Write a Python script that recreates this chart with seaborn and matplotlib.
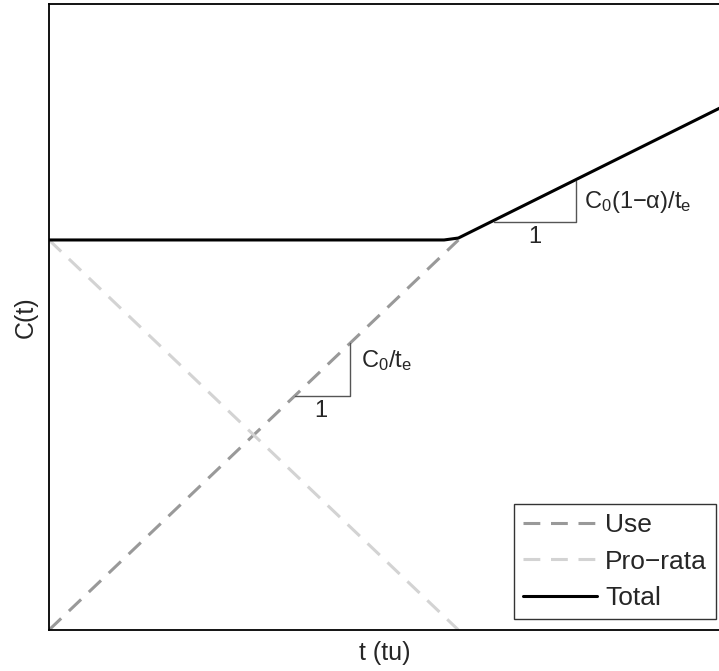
import numpy as np
import pandas as pd
import matplotlib
matplotlib.use("Agg")
import matplotlib.pyplot as plt
import seaborn as sns

# Data (C0 = 1, te = 1)
t_use = [0.0, 1.0]
c_use = [0.0, 1.0]
t_pro = [0.0, 1.0]
c_pro = [1.0, 0.0]
t_total = [0.0, 0.965, 1.0, 1.64]
c_total = [1.0, 1.0, 1.005, 1.339]
tri1_t = [0.601, 0.736]
tri2_t = [1.088, 1.286]
slope_total = 0.53

sns.set_theme(style="white")
plt.rcParams['font.family'] = ['Liberation Sans', 'DejaVu Sans']
plt.rcParams['mathtext.fontset'] = 'custom'
plt.rcParams['mathtext.rm'] = 'Liberation Sans'
plt.rcParams['mathtext.it'] = 'Liberation Sans'

fig = plt.figure(figsize=(7.19, 6.71), dpi=100)
ax = fig.add_axes([49/719, 1 - 630/671, 1 - 49/719 + 0.002, (630 - 4)/671])

df_use = pd.DataFrame({"t": t_use, "C": c_use})
df_pro = pd.DataFrame({"t": t_pro, "C": c_pro})
df_tot = pd.DataFrame({"t": t_total, "C": c_total})

LW = 2.2
DASH = [5.5, 3.5]
sns.lineplot(data=df_use, x="t", y="C", ax=ax, color="#999999", lw=LW,
             label="Use")
ax.lines[-1].set_dashes(DASH)
sns.lineplot(data=df_pro, x="t", y="C", ax=ax, color="#d3d3d3", lw=LW,
             label="Pro\u2212rata")
ax.lines[-1].set_dashes(DASH)
sns.lineplot(data=df_tot, x="t", y="C", ax=ax, color="black", lw=LW,
             label="Total")

FS = 17
# slope triangles
a, b = tri1_t
ax.plot([a, b, b], [a, a, b], color="#555555", lw=1)
ax.text((a + b) / 2 - 0.005, a - 0.012, "1", ha="center", va="top", fontsize=FS)
ax.text(b + 0.026, 0.674, r"C$_0$/t$_\mathrm{e}$", ha="left", va="baseline", fontsize=FS)

a, b = tri2_t
ya = 1 + slope_total * (a - 1)
yb = 1 + slope_total * (b - 1)
ax.plot([a, b, b], [ya, ya, yb], color="#555555", lw=1)
ax.text((a + b) / 2, ya - 0.012, "1", ha="center", va="top", fontsize=FS)
ax.text(b + 0.02, 1.082, r"C$_0$(1$-\alpha$)/t$_\mathrm{e}$", ha="left", va="baseline", fontsize=FS)

ax.set_xlim(0, 1.64)
ax.set_ylim(0, 1.605)
ax.set_xticks([])
ax.set_yticks([])
ax.set_xlabel("t (tu)", fontsize=18, labelpad=8)
ax.set_ylabel("C(t)", fontsize=18, labelpad=8)
for s in ["left", "top", "bottom"]:
    ax.spines[s].set_color("black")
    ax.spines[s].set_linewidth(1.3)
ax.spines["right"].set_visible(False)

leg = ax.legend(loc="lower right", fontsize=19, frameon=True, fancybox=False,
                handlelength=2.8, handletextpad=0.3, borderpad=0.35,
                labelspacing=0.46, borderaxespad=0,
                bbox_to_anchor=(716/719, 1 - 619/671),
                bbox_transform=fig.transFigure)
leg.get_frame().set_edgecolor("black")
leg.get_frame().set_linewidth(1)
for h in leg.get_lines():
    h.set_linewidth(LW)

fig.savefig("out.png", dpi=100)
